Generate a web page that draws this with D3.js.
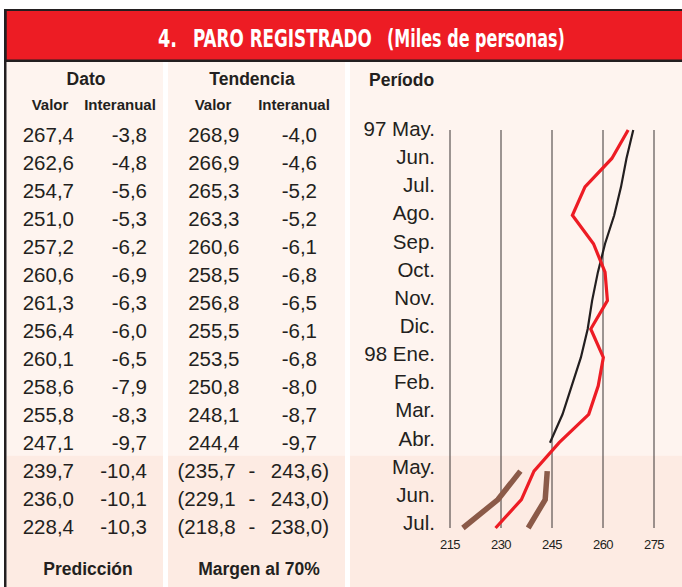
<!DOCTYPE html>
<html>
<head>
<meta charset="utf-8">
<script src="https://cdn.jsdelivr.net/npm/d3@7"></script>
<style>
  html, body { margin: 0; padding: 0; background: #ffffff; }
  svg { display: block; }
  text { font-family: "Liberation Sans", Arial, Helvetica, sans-serif; fill: #231f20; }
</style>
</head>
<body>
<svg id="chart" width="682" height="587"></svg>
<script>
// ---------- DATA ----------
const periods = ["97 May.", "Jun.", "Jul.", "Ago.", "Sep.", "Oct.", "Nov.", "Dic.",
                 "98 Ene.", "Feb.", "Mar.", "Abr.", "May.", "Jun.", "Jul."];
const datoValor = [267.4, 262.6, 254.7, 251.0, 257.2, 260.6, 261.3, 256.4,
                   260.1, 258.6, 255.8, 247.1, 239.7, 236.0, 228.4];
const datoInteranual = [-3.8, -4.8, -5.6, -5.3, -6.2, -6.9, -6.3, -6.0,
                        -6.5, -7.9, -8.3, -9.7, -10.4, -10.1, -10.3];
const tendValor = [268.9, 266.9, 265.3, 263.3, 260.6, 258.5, 256.8, 255.5,
                   253.5, 250.8, 248.1, 244.4];
const tendInteranual = [-4.0, -4.6, -5.2, -5.2, -6.1, -6.8, -6.5, -6.1,
                        -6.8, -8.0, -8.7, -9.7];
// Prediction margin (70%) for the last three months
const margenInf = [235.7, 229.1, 218.8];
const margenSup = [243.6, 243.0, 238.0];
const xTicks = [215, 230, 245, 260, 275];

const titleParts = ["4.", "PARO REGISTRADO", "(Miles de personas)"];

// ---------- SETUP ----------
const svg = d3.select("#chart");
const W = 682, H = 587;
const locale = d3.formatLocale({decimal: ",", thousands: ".", grouping: [3], currency: ["", ""], minus: "-"});
const f1 = locale.format(".1f");
const idx = d3.range(periods.length);
const nHist = tendValor.length;            // 12 observed months
const predIdx = d3.range(nHist, periods.length);

// Scales
const x = d3.scaleLinear().domain([215, 275]).range([450, 654]);
const y = d3.scalePoint().domain(idx).range([130, 528]);          // chart points
const yRow = d3.scalePoint().domain(idx).range([141.5, 534]);     // table baselines
const yLab = d3.scalePoint().domain(idx).range([136, 530]);       // period label baselines

// ---------- BACKGROUND PANELS ----------
const colTop = "#fef4ef", colBot = "#fdebe3";
const splitY = 455.5;
const cols = [[6.5, 163], [168, 345], [350, W]];
cols.forEach(c => {
  svg.append("rect").attr("x", c[0]).attr("y", 62).attr("width", c[1] - c[0]).attr("height", splitY - 62).attr("fill", colTop);
  svg.append("rect").attr("x", c[0]).attr("y", splitY).attr("width", c[1] - c[0]).attr("height", H - splitY).attr("fill", colBot);
});

// ---------- HEADER ----------
svg.append("rect").attr("x", 4).attr("y", 9).attr("width", W - 4).attr("height", 53).attr("fill", "#231f20");
svg.append("rect").attr("x", 6.5).attr("y", 11).attr("width", W - 6.5).attr("height", 48.5).attr("fill", "#ed1c24");
svg.append("rect").attr("x", 4).attr("y", 9).attr("width", 2.5).attr("height", H - 9).attr("fill", "#231f20");

const titleBoxes = [[158, 19], [193, 179], [387, 178]];   // [x, width] of each title part
titleParts.forEach((t, i) => {
  const g = svg.append("g");
  const tx = g.append("text")
    .attr("x", 0).attr("y", 0)
    .style("font-family", "'Liberation Sans Narrow', 'DejaVu Sans Condensed', sans-serif")
    .style("font-weight", "bold").style("font-size", "24.5px")
    .style("fill", "#ffffff")
    .text(t);
  const natural = tx.node().getComputedTextLength() || titleBoxes[i][1];
  const sx = titleBoxes[i][1] / natural;
  g.attr("transform", `translate(${titleBoxes[i][0]},47) scale(${sx},1)`);
});

// Column headers
const hdr = svg.append("g").style("font-weight", "bold");
hdr.append("text").attr("x", 86).attr("y", 85).attr("text-anchor", "middle").style("font-size", "17.5px").text("Dato");
hdr.append("text").attr("x", 252).attr("y", 85).attr("text-anchor", "middle").style("font-size", "17.5px").text("Tendencia");
hdr.append("text").attr("x", 369).attr("y", 86).style("font-size", "17.5px").text("Período");
[["Valor", 50], ["Interanual", 120], ["Valor", 213], ["Interanual", 294]].forEach(d => {
  hdr.append("text").attr("x", d[1]).attr("y", 110).attr("text-anchor", "middle")
     .style("font-size", "15px").text(d[0]);
});

// ---------- TABLE ----------
const tbl = svg.append("g").style("font-size", "20.5px");
tbl.selectAll(".dv").data(datoValor).join("text")
  .attr("x", 74).attr("y", (d, i) => yRow(i)).attr("text-anchor", "end").text(d => f1(d));
tbl.selectAll(".di").data(datoInteranual).join("text")
  .attr("x", 147).attr("y", (d, i) => yRow(i)).attr("text-anchor", "end").text(d => f1(d));
tbl.selectAll(".tv").data(tendValor).join("text")
  .attr("x", 239.5).attr("y", (d, i) => yRow(i)).attr("text-anchor", "end").text(d => f1(d));
tbl.selectAll(".ti").data(tendInteranual).join("text")
  .attr("x", 317).attr("y", (d, i) => yRow(i)).attr("text-anchor", "end").text(d => f1(d));
// margins
tbl.selectAll(".mi").data(margenInf).join("text")
  .attr("x", 177.5).attr("y", (d, i) => yRow(predIdx[i])).text(d => "(" + f1(d));
tbl.selectAll(".md").data(margenInf).join("text")
  .attr("x", 252).attr("y", (d, i) => yRow(predIdx[i])).attr("text-anchor", "middle").text("-");
tbl.selectAll(".ms").data(margenSup).join("text")
  .attr("x", 329).attr("y", (d, i) => yRow(predIdx[i])).attr("text-anchor", "end").text(d => f1(d) + ")");

// Footer labels
const ft = svg.append("g").style("font-weight", "bold").style("font-size", "17.5px");
ft.append("text").attr("x", 88).attr("y", 575).attr("text-anchor", "middle").text("Predicción");
ft.append("text").attr("x", 259).attr("y", 575).attr("text-anchor", "middle").text("Margen al 70%");

// ---------- CHART ----------
// period labels
svg.append("g").style("font-size", "20.5px")
  .selectAll("text").data(periods).join("text")
  .attr("x", 435).attr("y", (d, i) => yLab(i)).attr("text-anchor", "end").text(d => d);

// gridlines
svg.append("g").selectAll("line").data(xTicks).join("line")
  .attr("x1", d => x(d)).attr("x2", d => x(d))
  .attr("y1", y(0)).attr("y2", y(periods.length - 1))
  .attr("stroke", "#3b3535").attr("stroke-width", 1);

// tick labels
svg.append("g").style("font-size", "13px").attr("letter-spacing", "-0.6")
  .selectAll("text").data(xTicks).join("text")
  .attr("x", d => x(d)).attr("y", 549).attr("text-anchor", "middle").text(d => d);

const line = d3.line().x(d => x(d.v)).y(d => y(d.i));

// trend (black)
svg.append("path")
  .datum(tendValor.map((v, i) => ({v, i})))
  .attr("d", line).attr("fill", "none").attr("stroke", "#231f20").attr("stroke-width", 2.2);

// data (red)
svg.append("path")
  .datum(datoValor.map((v, i) => ({v, i})))
  .attr("d", line).attr("fill", "none").attr("stroke", "#ed1c24").attr("stroke-width", 3.2)
  .attr("stroke-linejoin", "miter");

// margins (brown)
[margenInf, margenSup].forEach(arr => {
  svg.append("path")
    .datum(arr.map((v, k) => ({v, i: predIdx[k]})))
    .attr("d", line).attr("fill", "none").attr("stroke", "#8b5a48").attr("stroke-width", 5.5);
});
</script>
</body>
</html>
